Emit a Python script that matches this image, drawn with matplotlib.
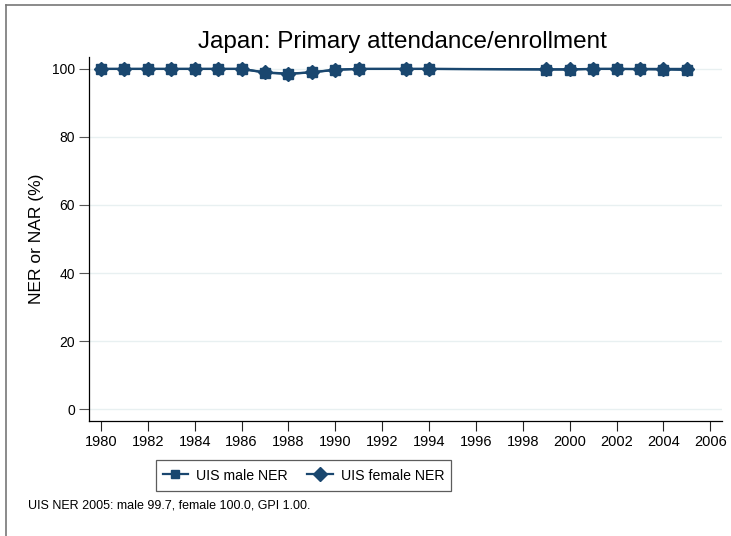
import matplotlib
matplotlib.use("Agg")
import matplotlib.pyplot as plt
from matplotlib.lines import Line2D

plt.rcParams['font.family'] = ['Liberation Sans', 'DejaVu Sans']

# data
years = [1980, 1981, 1982, 1983, 1984, 1985, 1986, 1987, 1988, 1989, 1990,
         1991, 1993, 1994, 1999, 2000, 2001, 2002, 2003, 2004, 2005]
male_ner = [100.0, 100.0, 100.0, 100.0, 100.0, 100.0, 100.0, 98.9, 98.5, 99.0,
            99.7, 100.0, 100.0, 100.0, 99.8, 99.8, 100.0, 100.0, 99.9, 99.8, 99.7]
female_ner = [100.0, 100.0, 100.0, 100.0, 100.0, 100.0, 100.0, 99.0, 98.6, 99.0,
              99.8, 100.0, 100.0, 100.0, 99.9, 99.9, 100.0, 100.0, 100.0, 100.0, 100.0]
xticks = list(range(1980, 2007, 2))
yticks = [0, 20, 40, 60, 80, 100]

navy = '#1a476f'
W, H = 731, 536

fig = plt.figure(figsize=(W / 100, H / 100), dpi=100)
fig.patch.set_facecolor('white')

# axes box in pixels: left 89, right 722, top 57, bottom 421
ax = fig.add_axes([89 / W, 1 - 421 / H, (722 - 89) / W, (421 - 57) / H])

ax.plot(years, male_ner, color=navy, lw=1.6, marker='s', ms=6.5, mec=navy, mfc=navy,
        label='UIS male NER', zorder=3)
ax.plot(years, female_ner, color=navy, lw=1.6, marker='D', ms=7, mec=navy, mfc=navy,
        label='UIS female NER', zorder=3)

ax.set_xlim(1979.49, 2006.5)
ax.set_ylim(-3.5, 103.5)
ax.set_xticks(xticks)
ax.set_yticks(yticks)
ax.set_xticklabels([str(t) for t in xticks],
                   fontfamily=['Liberation Sans Narrow', 'Liberation Sans'], fontsize=10.5)
ax.set_yticklabels([str(t) for t in yticks], fontsize=10)
ax.tick_params(axis='y', length=7, width=0.8, color='#555555', pad=3)
ax.tick_params(axis='x', length=7, width=0.8, color='#222222', pad=3)

ax.grid(axis='y', color='#e8f0f1', lw=1.0, zorder=0)
ax.set_axisbelow(True)
for s in ['top', 'right']:
    ax.spines[s].set_visible(False)
for s in ['left', 'bottom']:
    ax.spines[s].set_linewidth(0.9)
    ax.spines[s].set_color('black')

ax.set_ylabel('NER or NAR (%)', fontsize=12.5)
ax.yaxis.set_label_coords(-(89 - 44) / (722 - 89), 0.5)

fig.text(402 / W, 1 - 48 / H, 'Japan: Primary attendance/enrollment',
         fontsize=17.5, ha='center', va='baseline')

handles = [Line2D([], [], color=navy, lw=1.6, marker='s', ms=6),
           Line2D([], [], color=navy, lw=1.6, marker='D', ms=7.5)]
leg = fig.legend(handles, ['UIS male NER', 'UIS female NER'], ncol=2,
                 loc='center', bbox_to_anchor=(303.5 / W, 1 - 475.5 / H),
                 fontsize=10.2, frameon=True, fancybox=False, handlelength=1.8,
                 handleheight=1.5, handletextpad=0.55, columnspacing=1.4,
                 borderpad=0.5, borderaxespad=0)
leg.get_frame().set_edgecolor('#333333')
leg.get_frame().set_linewidth(0.9)

fig.text(28 / W, 1 - 508 / H, 'UIS NER 2005: male 99.7, female 100.0, GPI 1.00.',
         fontsize=9, ha='left', va='baseline')

# outer frame (only top and left visible in the crop)
fig.add_artist(Line2D([6 / W, 1], [1 - 5 / H, 1 - 5 / H], color='#777777', lw=1.2))
fig.add_artist(Line2D([6 / W, 6 / W], [0, 1 - 5 / H], color='#777777', lw=1.2))

fig.savefig('out.png', dpi=100)
